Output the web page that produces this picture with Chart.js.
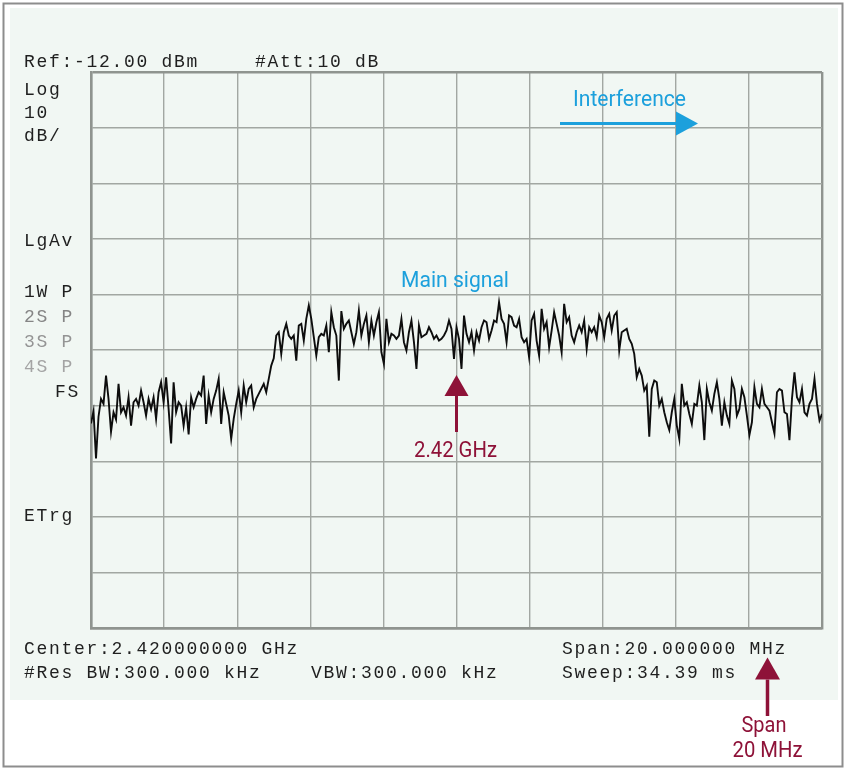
<!DOCTYPE html>
<html>
<head>
<meta charset="utf-8">
<title>Spectrum - 2.42 GHz</title>
<script src="https://cdn.jsdelivr.net/npm/chart.js@4.4.1/dist/chart.umd.min.js"></script>
<style>
  html, body { margin: 0; padding: 0; background: #fff; }
  #wrap { width: 846px; height: 769px; }
</style>
</head>
<body>
<div id="wrap"><canvas id="spectrum" width="846" height="769"></canvas></div>
<script>
// sweep settings
const centerMHz = 2420;
const spanMHz = 20;
const refLevel = -12;   // dBm at top line
const dbPerDiv = 10;
const divisions = 10;

// trace in dBm left to right (evenly spaced sweep points)
const levelsDbm = [
  // noise floor, left
  -75.2, -73.0, -81.5, -74.0, -70.8, -71.7, -66.6, -70.8, -76.7, -73.2,
  -74.5, -68.1, -73.2, -72.3, -73.8, -70.5, -75.6, -71.4, -70.8, -72.0,
  -69.3, -71.4, -73.8, -70.8, -72.6, -70.5, -74.4, -69.6, -67.8, -71.4,
  -66.9, -72.6, -78.8, -67.8, -73.2, -71.4, -72.0, -75.6, -72.3, -77.2,
  -70.5, -72.3, -70.8, -69.6, -70.2, -66.6, -75.3, -70.2, -73.2, -70.8,
  -69.3, -67.2, -75.3, -69.6, -71.7, -73.8, -78.0, -74.4, -71.7, -69.3,
  -73.2, -68.4, -71.4, -69.0, -68.4, -72.3, -70.8, -69.9, -69.0, -68.1,
  -69.6, -67.2, -64.8, -63.5, -59.4,
  // main signal
  -58.8, -62.7, -58.8, -57.3, -59.4, -60.0, -59.4, -63.9, -57.6, -57.3,
  -60.3, -56.4, -54.0, -56.4, -59.7, -63.0, -59.7, -59.1, -59.4, -57.6,
  -62.4, -55.2, -57.9, -59.4, -67.5, -55.0, -58.2, -57.3, -56.7, -58.8,
  -60.9, -58.8, -54.9, -59.4, -57.3, -55.8, -60.6, -56.7, -59.4, -57.0,
  -55.2, -62.4, -64.5, -56.4, -60.6, -59.1, -59.4, -60.0, -59.4, -56.4,
  -60.6, -62.1, -58.8, -56.7, -60.6, -65.4, -57.6, -59.7, -59.4, -59.1,
  -57.9, -58.8, -60.0, -59.4, -60.3, -60.0, -59.4, -58.5, -56.7, -58.2,
  -63.6, -57.9, -60.0,
  -65.4, -55.8, -59.1, -60.6, -58.8, -62.1, -58.8, -60.3, -57.9, -56.7,
  -57.0, -60.0, -58.5, -56.7, -57.0, -53.4, -56.4, -57.3, -60.6, -55.8,
  -56.1, -57.6, -57.9, -56.4, -59.7, -60.6, -60.0, -63.3, -56.7, -55.5,
  -60.3, -63.0, -54.6, -58.2, -57.0, -61.5, -58.5, -55.2, -57.3, -59.4,
  -62.4, -53.7, -57.0, -56.1, -59.4, -60.6, -58.8, -57.6, -58.8, -56.7,
  -61.8, -57.9, -58.8, -57.9, -59.7, -55.8, -57.0, -59.7, -56.4, -55.5,
  -58.5, -55.8, -55.2, -62.1, -58.8, -58.5, -58.2, -60.0, -60.9, -62.7,
  -66.9, -65.4, -66.6, -69.3,
  // noise floor, right
  -68.4, -77.6, -69.0, -67.5, -67.8, -72.0, -70.8, -73.2, -75.0, -76.4,
  -73.2, -70.8, -75.6, -78.0, -68.1, -72.0, -71.4, -73.5, -75.3, -71.7,
  -72.0, -68.4, -71.4, -78.2, -69.0, -71.4, -72.9, -69.9, -67.8, -70.8,
  -75.6, -71.4, -73.8, -75.3, -67.5, -69.0, -73.8, -72.6, -69.0, -70.5,
  -73.8, -77.3, -75.0, -68.7, -71.7, -72.3, -69.0, -71.7, -72.3, -72.9,
  -75.0, -77.0, -69.6, -69.0, -69.3, -73.2, -73.5, -78.2, -70.8, -66.0,
  -70.5, -71.4, -69.0, -73.2, -73.8, -71.7, -70.8, -67.2, -71.7, -74.7,
  -73.5
];

// screen annotations of the analyzer
const headerText = ['Ref:-12.00 dBm', '#Att:10 dB'];
const sideText = ['Log', '10', 'dB/', 'LgAv', '1W P', '2S P', '3S P', '4S P', 'FS', 'ETrg'];
const footerText = ['Center:2.420000000 GHz', '#Res BW:300.000 kHz', 'VBW:300.000 kHz',
                    'Span:20.000000 MHz', 'Sweep:34.39 ms'];
const noteText = ['Interference', 'Main signal', '2.42 GHz', 'Span', '20 MHz'];

const startMHz = centerMHz - spanMHz / 2;
const stopMHz = centerMHz + spanMHz / 2;
const points = levelsDbm.map((v, i) => ({
  x: startMHz + i * spanMHz / (levelsDbm.length - 1),
  y: v
}));

const colors = {
  panel: '#f1f7f3',
  frame: '#8d8d8d',
  grid: '#a2a7a2',
  gridEdge: '#8f948f',
  trace: '#0d0d0d',
  text: '#1f1f1f',
  blue: '#1ca0dc',
  red: '#8e1238'
};

// arrow helper: shaft from (x1,y1) to (x2,y2), head at (x2,y2)
function drawArrow(ctx, x1, y1, x2, y2, headLen, headHalf, color, width) {
  const ang = Math.atan2(y2 - y1, x2 - x1);
  const bx = x2 - Math.cos(ang) * headLen;
  const by = y2 - Math.sin(ang) * headLen;
  ctx.save();
  ctx.strokeStyle = color;
  ctx.fillStyle = color;
  ctx.lineWidth = width;
  ctx.beginPath();
  ctx.moveTo(x1, y1);
  ctx.lineTo(bx, by);
  ctx.stroke();
  ctx.beginPath();
  ctx.moveTo(x2, y2);
  ctx.lineTo(bx - Math.sin(ang) * headHalf, by + Math.cos(ang) * headHalf);
  ctx.lineTo(bx + Math.sin(ang) * headHalf, by - Math.cos(ang) * headHalf);
  ctx.closePath();
  ctx.fill();
  ctx.restore();
}

// background: white page, outer frame, light screen panel
const framePlugin = {
  id: 'frame',
  beforeDraw(chart) {
    const ctx = chart.ctx;
    ctx.save();
    ctx.fillStyle = '#ffffff';
    ctx.fillRect(0, 0, chart.width, chart.height);
    ctx.fillStyle = colors.panel;
    ctx.fillRect(10, 8, 828, 692);
    ctx.strokeStyle = colors.frame;
    ctx.lineWidth = 2;
    ctx.strokeRect(3.5, 3.5, 839, 763);
    ctx.restore();
  }
};

// analyzer screen text (monospace)
const screenTextPlugin = {
  id: 'screenText',
  afterDraw(chart) {
    const ctx = chart.ctx;
    ctx.save();
    ctx.font = '18px "Liberation Mono", "DejaVu Sans Mono", monospace';
    if ('letterSpacing' in ctx) ctx.letterSpacing = '1.7px';
    ctx.textBaseline = 'alphabetic';
    ctx.fillStyle = colors.text;

    ctx.fillText(headerText[0], 24, 67);
    ctx.fillText(headerText[1], 255, 67);

    const sideY = [95, 118, 141, 246, 297, 322, 347, 372, 397, 521];
    const sideCol = [colors.text, colors.text, colors.text, colors.text, colors.text,
                     '#858585', '#949494', '#a4a4a4', colors.text, colors.text];
    sideText.forEach((t, i) => {
      ctx.fillStyle = sideCol[i];
      if (t === 'FS') {
        ctx.textAlign = 'right';
        ctx.fillText(t, 80, sideY[i]);
        ctx.textAlign = 'left';
      } else {
        ctx.fillText(t, 24, sideY[i]);
      }
    });

    ctx.fillStyle = colors.text;
    const footPos = [[24, 654], [24, 678], [311, 678], [562, 654], [562, 678]];
    footerText.forEach((t, i) => ctx.fillText(t, footPos[i][0], footPos[i][1]));
    ctx.restore();
  }
};

// callouts added on top of the screenshot
const notesPlugin = {
  id: 'notes',
  afterDraw(chart) {
    const ctx = chart.ctx;
    const xs = chart.scales.x;
    const xc = xs.getPixelForValue(centerMHz);
    ctx.save();
    ctx.font = '22px Roboto, "Liberation Sans", sans-serif';
    ctx.textBaseline = 'alphabetic';

    // interference
    ctx.fillStyle = colors.blue;
    ctx.textAlign = 'left';
    ctx.fillText(noteText[0], 573, 106, 113);
    drawArrow(ctx, 560, 123.5, 698, 123.5, 22, 12, colors.blue, 3);

    // main signal
    ctx.fillText(noteText[1], 401, 287, 108);

    // center marker
    ctx.fillStyle = colors.red;
    drawArrow(ctx, xc, 432, xc, 375, 21, 12, colors.red, 3);
    ctx.fillText(noteText[2], 414, 456.5, 83);

    // span
    drawArrow(ctx, 767.5, 716, 767.5, 657.5, 22, 12.5, colors.red, 3.5);
    ctx.textAlign = 'center';
    ctx.fillText(noteText[3], 764, 731.5, 45);
    ctx.fillText(noteText[4], 767.5, 757, 70);
    ctx.restore();
  }
};

const edgeWidth = (c) => (c.index === 0 || c.index === divisions) ? 2.4 : 1.4;
const edgeColor = (c) => (c.index === 0 || c.index === divisions) ? colors.gridEdge : colors.grid;

new Chart(document.getElementById('spectrum'), {
  type: 'line',
  data: {
    datasets: [{
      label: 'Trace 1',
      data: points,
      borderColor: colors.trace,
      borderWidth: 1.9,
      pointRadius: 0,
      tension: 0,
      fill: false
    }]
  },
  options: {
    responsive: false,
    animation: false,
    devicePixelRatio: 1,
    layout: { padding: { left: 91, top: 72, right: 24, bottom: 141 } },
    plugins: {
      legend: { display: false },
      tooltip: { enabled: false }
    },
    scales: {
      x: {
        type: 'linear',
        min: startMHz,
        max: stopMHz,
        ticks: { display: false, stepSize: spanMHz / divisions },
        grid: { color: edgeColor, lineWidth: edgeWidth, drawTicks: false },
        border: { display: true, color: colors.gridEdge, width: 2.4 }
      },
      y: {
        min: refLevel - dbPerDiv * divisions,
        max: refLevel,
        ticks: { display: false, stepSize: dbPerDiv },
        grid: { color: edgeColor, lineWidth: edgeWidth, drawTicks: false },
        border: { display: true, color: colors.gridEdge, width: 2.4 }
      }
    }
  },
  plugins: [framePlugin, screenTextPlugin, notesPlugin]
});
</script>
</body>
</html>
